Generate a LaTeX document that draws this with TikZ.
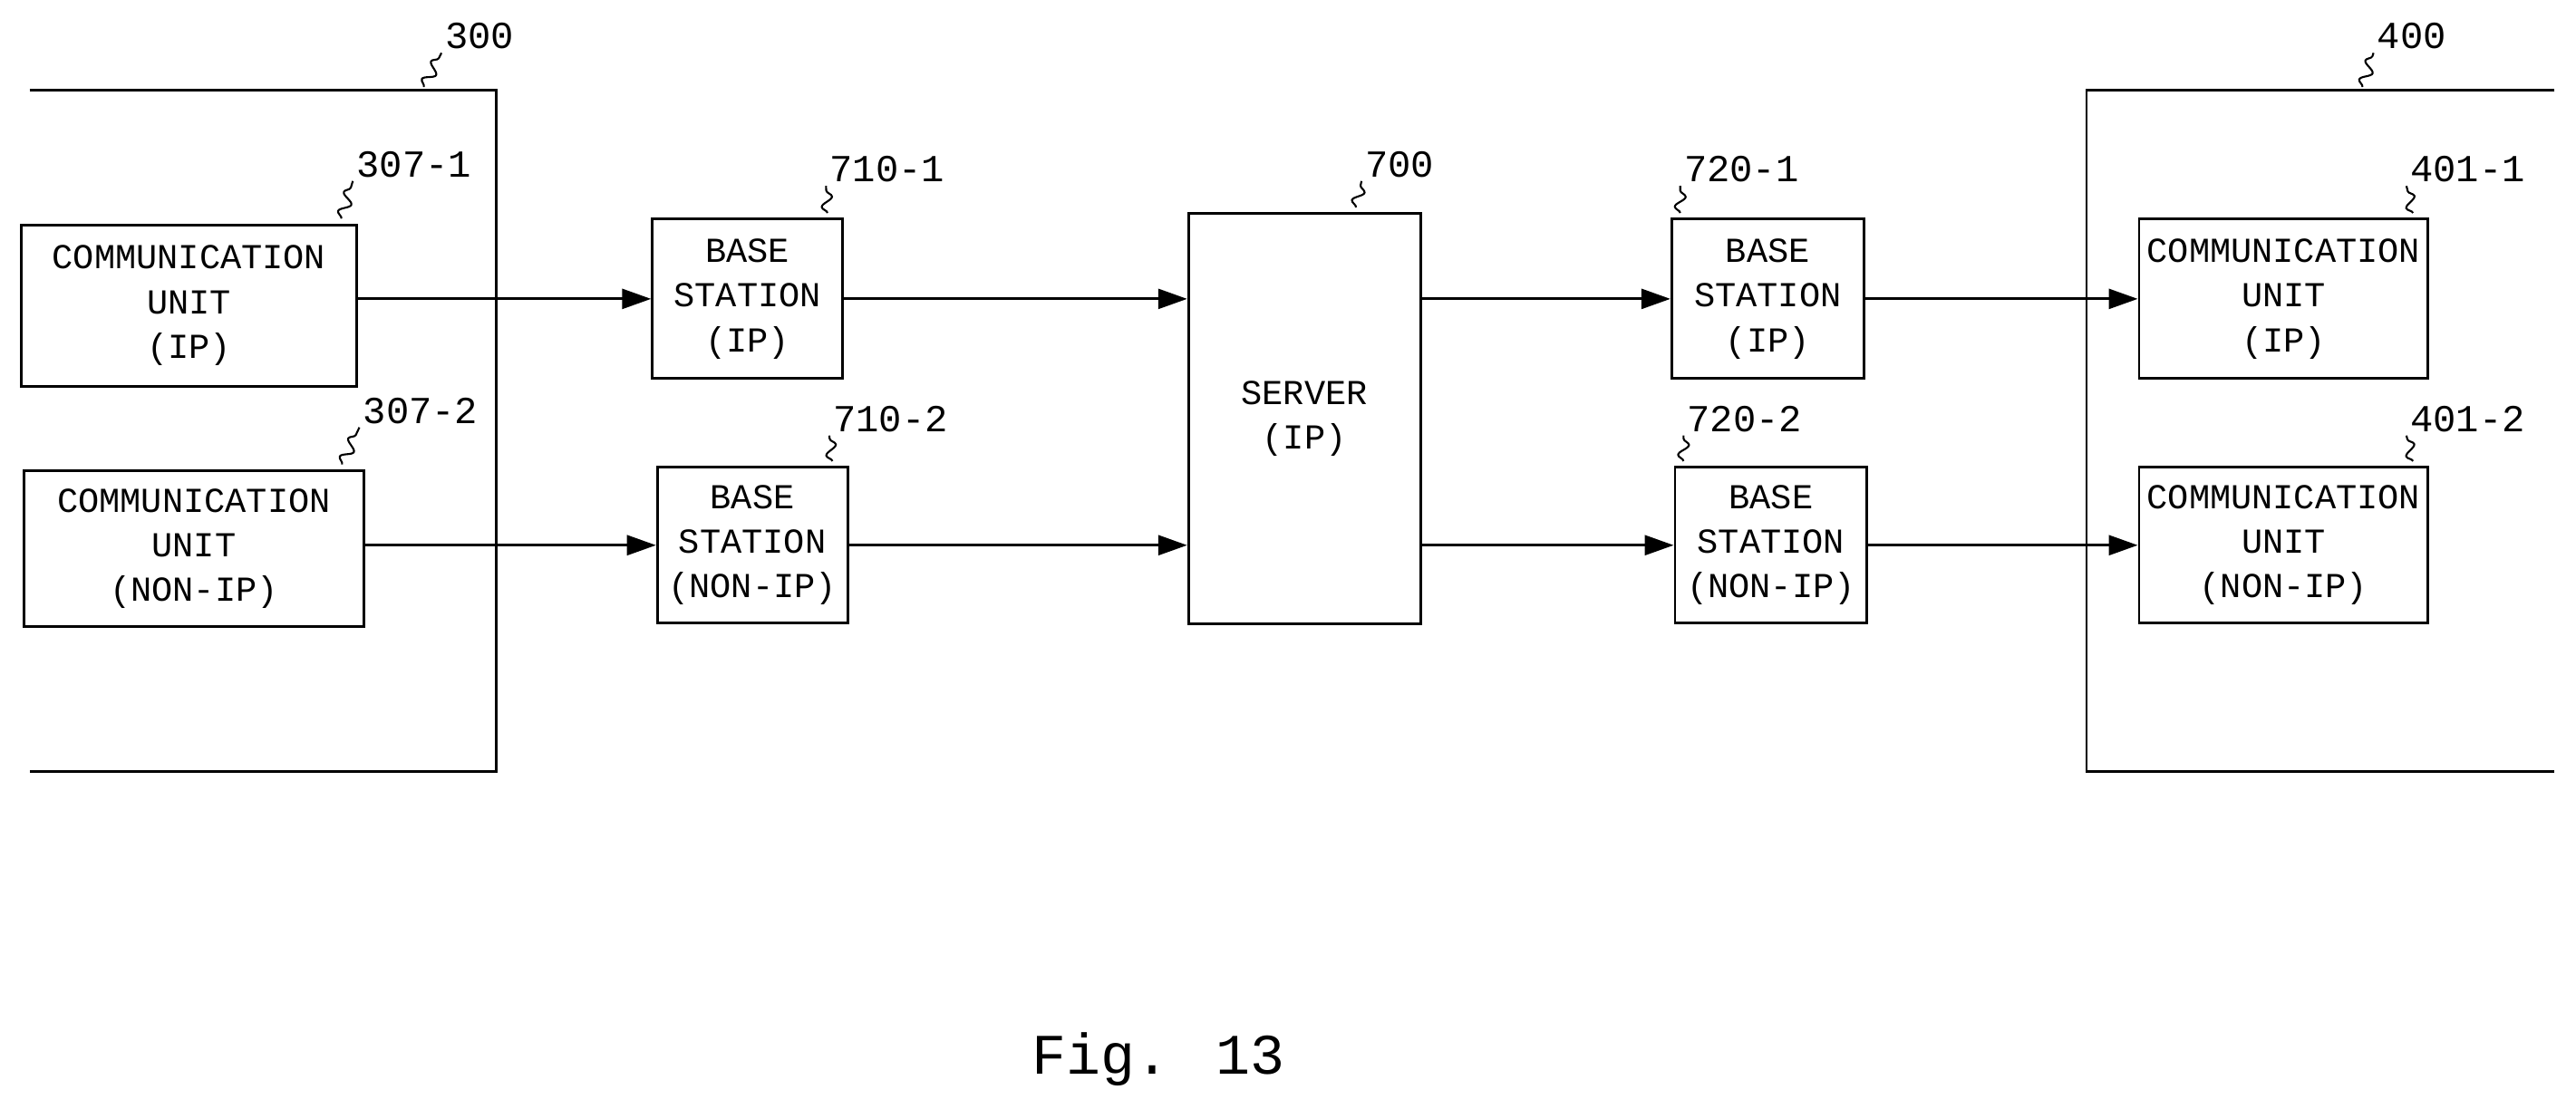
\documentclass[tikz,border=0pt]{standalone}
\usepackage{fontspec}
\setmainfont{Liberation Mono}
\usetikzlibrary{arrows.meta,decorations.pathmorphing}
\tikzset{
  unit/.style={draw, line width=0.8pt, align=center, inner sep=0pt, font=\fontsize{11}{14}\selectfont},
  link/.style={-{Triangle[length=3.2mm,width=2.2mm]}, line width=0.8pt},
  leader/.style={decorate, decoration={snake, amplitude=0.6mm, segment length=2.2mm}, line width=0.6pt},
  tag/.style={font=\fontsize{12}{14}\selectfont, inner sep=1pt}
}
\begin{document}
\begin{tikzpicture}[x=0.018125cm, y=-0.018125cm]
  \useasboundingbox (0,0) rectangle (1568,675);
  % enclosures 300 and 400
  \draw[line width=0.8pt] (18,55) -- (302,55) -- (302,470) -- (18,470);
  \draw[line width=0.8pt] (1555,55) -- (1270,55) -- (1270,470) -- (1555,470);
  \node[tag] (t300) at (292,22) {300};
  \node[tag] (t400) at (1468,22) {400};
  \draw[leader] (258,53) -- (t300.south west);
  \draw[leader] (1438,53) -- (t400.south west);

  % units
  \node[unit, minimum width=3.70cm, minimum height=1.78cm] (c1) at (115,186) {COMMUNICATION\\UNIT\\(IP)};
  \node[unit, minimum width=3.75cm, minimum height=1.72cm] (c2) at (118,334) {COMMUNICATION\\UNIT\\(NON-IP)};
  \node[unit, minimum width=2.10cm, minimum height=1.76cm] (b1) at (455,182) {BASE\\STATION\\(IP)};
  \node[unit, minimum width=2.10cm, minimum height=1.72cm] (b2) at (458,332) {BASE\\STATION\\(NON-IP)};
  \node[unit, minimum width=2.56cm, minimum height=4.53cm] (srv) at (794,255) {SERVER\\(IP)};
  \node[unit, minimum width=2.12cm, minimum height=1.76cm] (r1) at (1076,182) {BASE\\STATION\\(IP)};
  \node[unit, minimum width=2.12cm, minimum height=1.72cm] (r2) at (1078,332) {BASE\\STATION\\(NON-IP)};
  \node[unit, minimum width=3.19cm, minimum height=1.76cm] (d1) at (1390,182) {COMMUNICATION\\UNIT\\(IP)};
  \node[unit, minimum width=3.19cm, minimum height=1.72cm] (d2) at (1390,332) {COMMUNICATION\\UNIT\\(NON-IP)};

  % reference numerals
  \node[tag] (t307a) at (252,100) {307-1};
  \node[tag] (t307b) at (256,250) {307-2};
  \node[tag] (t710a) at (540,103) {710-1};
  \node[tag] (t710b) at (542,255) {710-2};
  \node[tag] (t700) at (852,100) {700};
  \node[tag] (t720a) at (1060,103) {720-1};
  \node[tag] (t720b) at (1062,255) {720-2};
  \node[tag] (t401a) at (1502,103) {401-1};
  \node[tag] (t401b) at (1502,255) {401-2};
  \draw[leader] (c1.north east) ++(-10,-3) -- (t307a.south west);
  \draw[leader] (c2.north east) ++(-14,-3) -- (t307b.south west);
  \draw[leader] (b1.north east) ++(-10,-3) -- (t710a.south west);
  \draw[leader] (b2.north east) ++(-10,-3) -- (t710b.south west);
  \draw[leader] (srv.north east) ++(-40,-3) -- (t700.south west);
  \draw[leader] (r1.north west) ++(6,-3) -- (t720a.south west);
  \draw[leader] (r2.north west) ++(6,-3) -- (t720b.south west);
  \draw[leader] (d1.north east) ++(-10,-3) -- (t401a.south west);
  \draw[leader] (d2.north east) ++(-10,-3) -- (t401b.south west);

  % connectors
  \draw[link] (c1.east |- b1.east) -- (b1.west);
  \draw[link] (b1.east) -- (b1.east -| srv.west);
  \draw[link] (srv.east |- r1.west) -- (r1.west);
  \draw[link] (r1.east) -- (r1.east -| d1.west);
  \draw[link] (c2.east |- b2.west) -- (b2.west);
  \draw[link] (b2.east) -- (b2.east -| srv.west);
  \draw[link] (srv.east |- r2.west) -- (r2.west);
  \draw[link] (r2.east) -- (r2.east -| d2.west);

  \node[font=\fontsize{18}{22}\selectfont] (fig) at (705,645) {Fig. 13};
\end{tikzpicture}
\end{document}
